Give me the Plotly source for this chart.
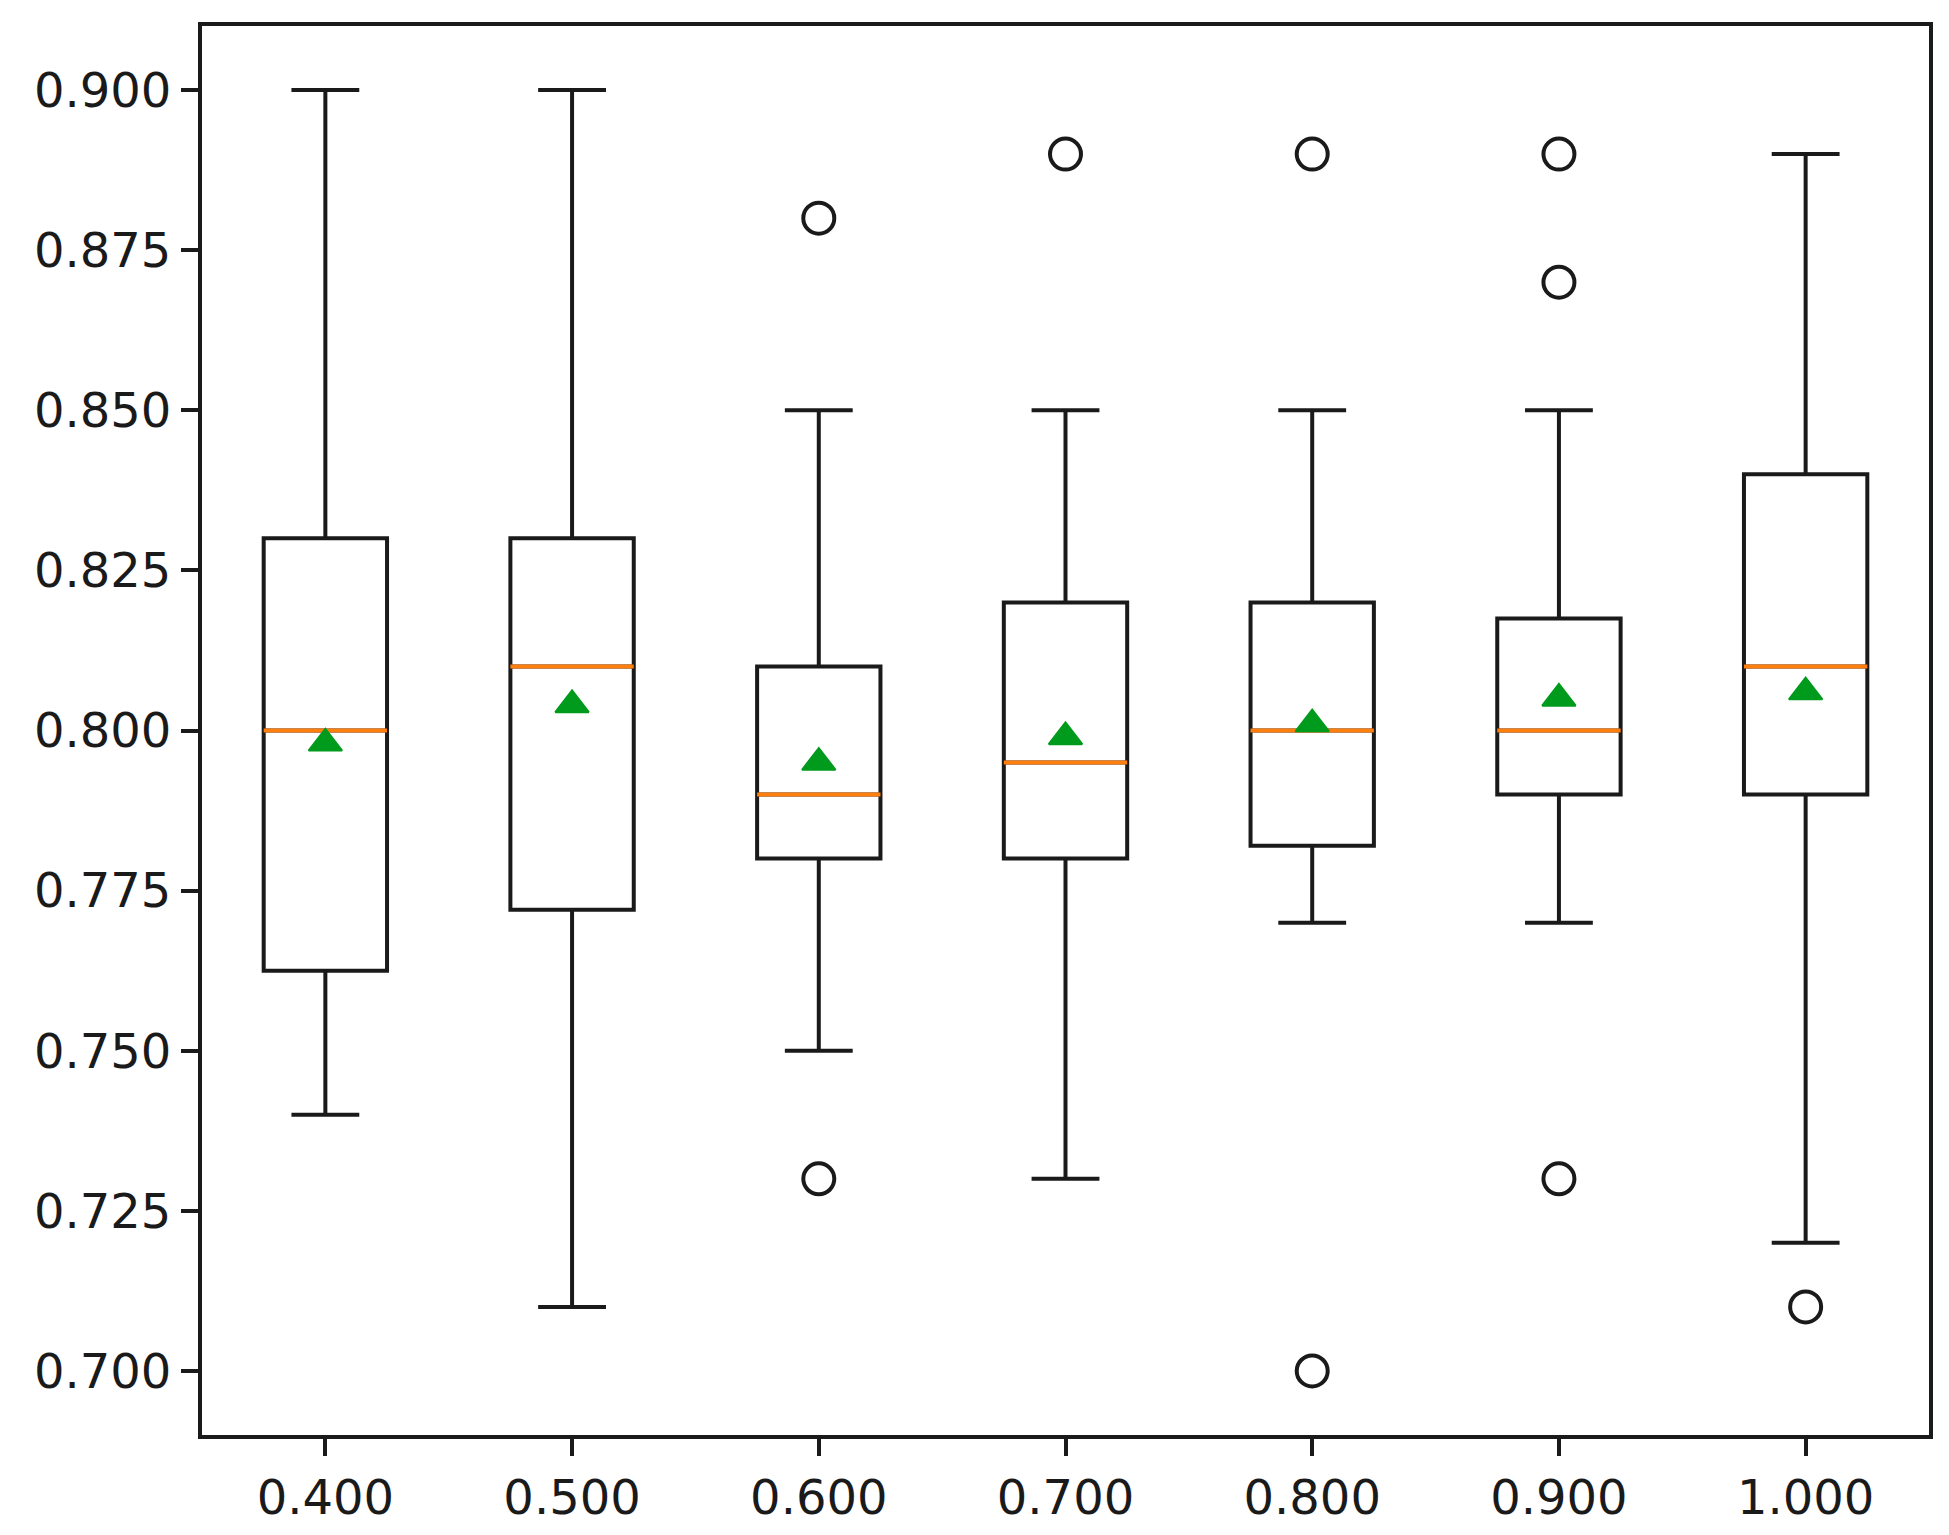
import plotly.graph_objects as go

# x categories (tick labels)
categories = ["0.400", "0.500", "0.600", "0.700", "0.800", "0.900", "1.000"]

# box statistics
lower_whisker = [0.740, 0.710, 0.750, 0.730, 0.770, 0.770, 0.720]
q1 = [0.7625, 0.772, 0.780, 0.780, 0.782, 0.790, 0.790]
medians = [0.800, 0.810, 0.790, 0.795, 0.800, 0.800, 0.810]
q3 = [0.830, 0.830, 0.810, 0.820, 0.820, 0.8175, 0.840]
upper_whisker = [0.900, 0.900, 0.850, 0.850, 0.850, 0.850, 0.890]
means = [0.798, 0.804, 0.795, 0.799, 0.801, 0.805, 0.806]

# fliers per category
outliers = {
    "0.600": [0.880, 0.730],
    "0.700": [0.890],
    "0.800": [0.890, 0.700],
    "0.900": [0.890, 0.870, 0.730],
    "1.000": [0.710],
}

FONT = "DejaVu Sans"
INK = "#1a1a1a"

fig = go.Figure()

# main boxes with caps
fig.add_trace(go.Box(
    x=categories, q1=q1, median=medians, q3=q3,
    lowerfence=lower_whisker, upperfence=upper_whisker,
    width=0.5, whiskerwidth=0.55, boxpoints=False,
    line=dict(color=INK, width=4), fillcolor="rgba(0,0,0,0)",
    showlegend=False, hoverinfo="skip",
))

# orange median line drawn as a flat box over the black one
fig.add_trace(go.Box(
    x=categories, q1=medians, median=medians, q3=medians,
    lowerfence=medians, upperfence=medians,
    width=0.5, whiskerwidth=0, boxpoints=False,
    line=dict(color="#ff7f0e", width=4), fillcolor="rgba(0,0,0,0)",
    showlegend=False, hoverinfo="skip",
))

# fliers
fx, fy = [], []
for cat, vals in outliers.items():
    for v in vals:
        fx.append(cat)
        fy.append(v)
fig.add_trace(go.Scatter(
    x=fx, y=fy, mode="markers",
    marker=dict(symbol="circle-open", size=31, color=INK, line=dict(width=4)),
    showlegend=False,
))

# means
fig.add_trace(go.Scatter(
    x=categories, y=means, mode="markers",
    marker=dict(symbol="triangle-up", size=29, color="#009a1c",
                line=dict(color="#009a1c", width=2)),
    showlegend=False,
))

# page body adds ~8px at top-left, so margins are pulled in by that much
fig.update_layout(
    width=1949, height=1535,
    margin=dict(l=194, r=28, t=18, b=108),
    plot_bgcolor="white", paper_bgcolor="white",
    boxmode="overlay",
    font=dict(family=FONT, size=48, color=INK),
)
fig.update_xaxes(
    type="category", categoryorder="array", categoryarray=categories,
    range=[-0.5, 6.5],
    showline=True, linecolor=INK, linewidth=4, mirror=True,
    ticks="outside", ticklen=17, tickwidth=4, tickcolor=INK,
    showgrid=False, zeroline=False,
)
fig.update_yaxes(
    range=[0.69, 0.91],
    tickvals=[0.700, 0.725, 0.750, 0.775, 0.800, 0.825, 0.850, 0.875, 0.900],
    tickformat=".3f",
    showline=True, linecolor=INK, linewidth=4, mirror=True,
    ticks="outside", ticklen=17, tickwidth=4, tickcolor=INK,
    showgrid=False, zeroline=False,
)

fig.write_html("out.html")
